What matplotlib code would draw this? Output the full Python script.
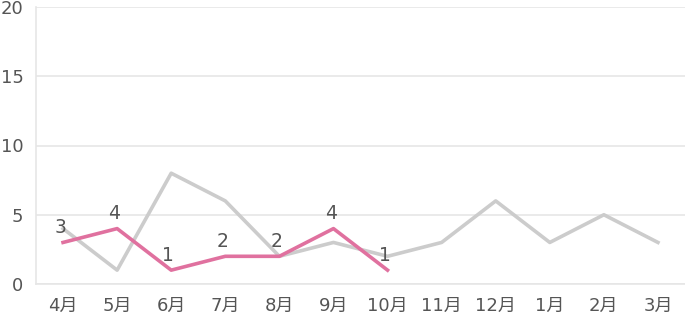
import matplotlib
matplotlib.use("Agg")
import matplotlib.pyplot as plt

# DejaVu for the digits, CJK font for 月
plt.rcParams['font.family'] = ['DejaVu Sans', 'Noto Sans CJK JP']

months = ['4月', '5月', '6月', '7月', '8月', '9月', '10月', '11月', '12月', '1月', '2月', '3月']
last_year = [4, 1, 8, 6, 2, 3, 2, 3, 6, 3, 5, 3]
this_year = [3, 4, 1, 2, 2, 4, 1]

fig = plt.figure(figsize=(6.85, 3.23), dpi=100)
ax = fig.add_axes([36 / 685, 1 - 284 / 323, 649 / 685, 277 / 323])

x = list(range(len(months)))
ax.plot(x, last_year, color='#cccccc', linewidth=2.6, zorder=2)
ax.plot(x[:len(this_year)], this_year, color='#e0719f', linewidth=2.6, zorder=3)

# value labels for the current year
for i, v in enumerate(this_year):
    ax.annotate(str(v), (i, v), xytext=(-2, 4), textcoords='offset points',
                ha='center', va='bottom', fontsize=13.5, color='#555555', zorder=4)

ax.set_xlim(-0.5, len(months) - 0.5)
ax.set_ylim(0, 20)
ax.set_yticks([0, 5, 10, 15, 20])
ax.set_xticks(x)
ax.set_xticklabels(months)
ax.tick_params(axis='both', length=0, colors='#555555')
ax.tick_params(axis='x', pad=9, labelsize=13)
ax.tick_params(axis='y', pad=9, labelsize=13)

ax.grid(axis='y', color='#e6e6e6', linewidth=1.2)
ax.set_axisbelow(True)
for side in ['top', 'right']:
    ax.spines[side].set_visible(False)
ax.spines['left'].set_color('#e6e6e6')
ax.spines['bottom'].set_color('#e6e6e6')
ax.spines['left'].set_linewidth(1.2)
ax.spines['bottom'].set_linewidth(1.2)

fig.savefig('out.png', dpi=100)
